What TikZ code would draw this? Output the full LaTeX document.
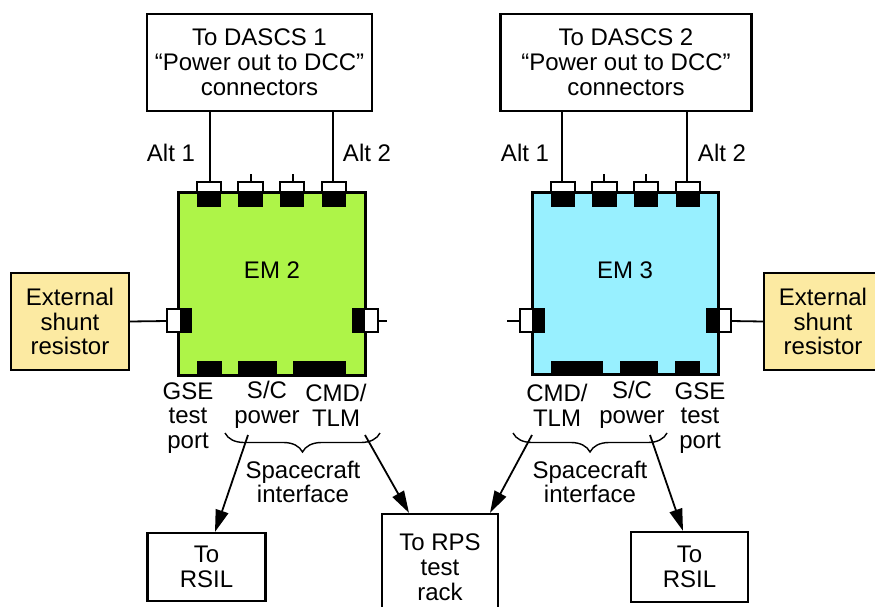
\documentclass[tikz,border=0pt]{standalone}
\usepackage{fontspec}
\setmainfont{Liberation Sans}
\usetikzlibrary{arrows.meta,decorations.pathreplacing}
\definecolor{emgreen}{RGB}{174,244,72}
\definecolor{emcyan}{RGB}{152,240,255}
\definecolor{shunt}{RGB}{252,234,162}
\begin{document}
\begin{tikzpicture}[x=1pt,y=-1pt,
  every node/.style={font=\fontsize{24}{24.8}\selectfont, inner sep=0pt, align=center},
  box/.style={draw, line width=2.2pt, fill=white},
  embox/.style={draw, line width=3pt},
  wire/.style={line width=1.8pt},
  arr/.style={line width=1.8pt, -{Triangle[length=22pt,width=13pt]}},
  brc/.style={line width=1.4pt, decorate, decoration={brace,mirror,amplitude=19pt}},
  blk/.style={fill=black},
  wht/.style={fill=white, draw, line width=1.2pt}]
\useasboundingbox (0,0) rectangle (875,607);
% top boxes
\node[box, minimum width=225pt, minimum height=97pt] (dascs1) at (259.5,62.5) {To DASCS 1\\“Power out to DCC”\\connectors};
\node[box, minimum width=251pt, minimum height=97pt] (dascs2) at (626,62.5) {To DASCS 2\\“Power out to DCC”\\connectors};
% EM boxes
\node[embox, fill=emgreen, minimum width=187pt, minimum height=183pt] (em2) at (271.5,283.5) {};
\node[embox, fill=emcyan, minimum width=186pt, minimum height=182pt] (em3) at (625.5,283) {};
\node (em2lab) at (272,270) {EM 2};
\node (em3lab) at (625,270) {EM 3};
% shunt boxes
\node[box, fill=shunt, minimum width=118pt, minimum height=97pt] (sh1) at (70,321.5) {External\\shunt\\resistor};
\node[box, fill=shunt, minimum width=118pt, minimum height=97pt] (sh2) at (823,321.5) {External\\shunt\\resistor};
% destination boxes
\node[box, minimum width=118pt, minimum height=68pt] (rsil1) at (206.5,567) {To\\RSIL};
\node[box, minimum width=116pt, minimum height=106pt] (rps) at (440,567) {To RPS\\test\\rack};
\node[box, minimum width=117pt, minimum height=70pt] (rsil2) at (689.5,567) {To\\RSIL};
% Alt labels
\node (a11) at (171,153) {Alt 1};
\node (a12) at (367,153) {Alt 2};
\node (a21) at (525,153) {Alt 1};
\node (a22) at (722,153) {Alt 2};
% wires to top boxes
\coordinate (c21) at (210,182); \coordinate (c24) at (333,182);
\coordinate (c31) at (562,182); \coordinate (c34) at (687,182);
\draw[wire] (dascs1.south -| c21) -- (c21);
\draw[wire] (dascs1.south -| c24) -- (c24);
\draw[wire] (dascs2.south -| c31) -- (c31);
\draw[wire] (dascs2.south -| c34) -- (c34);
\foreach \x in {251,293,604,646} \draw[wire] (\x,182) -- (\x,174);
% top connectors
\foreach \a/\b in {197/221,238/263,280/304,322/346,551/575,592/617,634/658,676/700}{
  \filldraw[wht] (\a,182) rectangle (\b,192);
  \fill[blk] (\a,191) rectangle (\b,207);
}
% bottom connectors
\foreach \a/\b in {197/222,238/277,293/346,551/603,620/658,675/700}
  \fill[blk] (\a,361) rectangle (\b,374);
% side connectors EM2
\draw[wire] (sh1.east) -- (167,321);
\filldraw[wht] (167,309) rectangle (181,332);
\fill[blk] (180,308) rectangle (192,333);
\draw[wire] (378,321) -- (387,321);
\filldraw[wht] (364,309) rectangle (378,332);
\fill[blk] (352,308) rectangle (364,333);
% side connectors EM3
\draw[wire] (507,321) -- (520,321);
\filldraw[wht] (520,309) rectangle (533,332);
\fill[blk] (533,308) rectangle (545,333);
\draw[wire] (sh2.west) -- (731,321);
\filldraw[wht] (719,309) rectangle (731,332);
\fill[blk] (706,308) rectangle (719,333);
% port labels
\node (gse2) at (188,418) {GSE\\test\\port};
\node (sc2) at (267,405) {S/C\\power};
\node (cmd2) at (336,405) {CMD/\\TLM};
\node (cmd3) at (557,405) {CMD/\\TLM};
\node (sc3) at (632,405) {S/C\\power};
\node (gse3) at (700,418) {GSE\\test\\port};
% braces
\draw[brc] (225,433) -- (380,433);
\draw[brc] (513,433) -- (667,433);
\node (sci2) at (303,482) {Spacecraft\\interface};
\node (sci3) at (590,482) {Spacecraft\\interface};
% arrows
\coordinate (s1) at (248,435); \coordinate (e1) at (215,0);
\coordinate (s2) at (365,435); \coordinate (e2) at (409,0);
\coordinate (s3) at (532,435); \coordinate (e3) at (490,0);
\coordinate (s4) at (650,435); \coordinate (e4) at (683,0);
\draw[arr] (s1) -- (rsil1.north -| e1);
\draw[arr] (s2) -- (rps.north -| e2);
\draw[arr] (s3) -- (rps.north -| e3);
\draw[arr] (s4) -- (rsil2.north -| e4);
\end{tikzpicture}
\end{document}
